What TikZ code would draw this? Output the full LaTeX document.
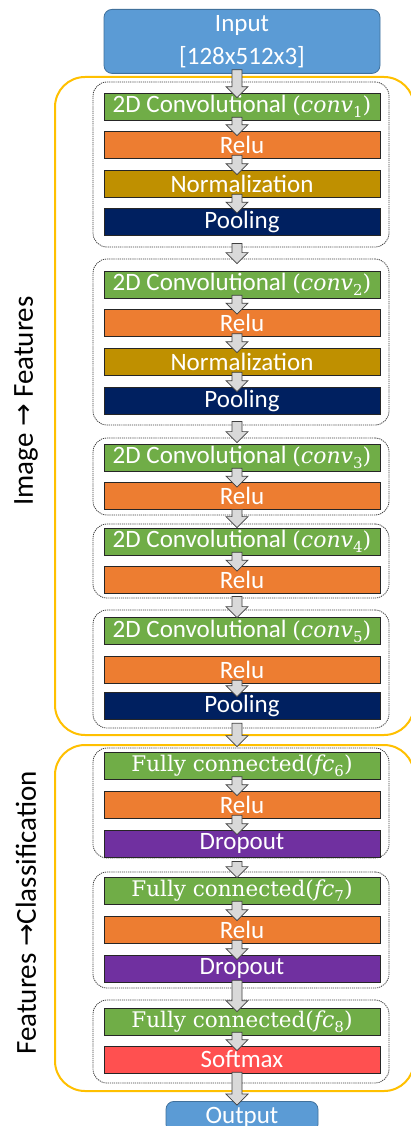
\documentclass[tikz,border=0pt]{standalone}
\usepackage{fontspec}
\setsansfont{Carlito}
\newfontfamily\cambriaish{DejaVu Serif}
\newfontfamily\arrowfont{DejaVu Sans}
\usetikzlibrary{calc}
\definecolor{inblue}{HTML}{5B9BD5}
\definecolor{inblueborder}{HTML}{41719C}
\definecolor{convgreen}{HTML}{70AD47}
\definecolor{reluorange}{HTML}{ED7D31}
\definecolor{normgold}{HTML}{BF9000}
\definecolor{poolnavy}{HTML}{002060}
\definecolor{droppurple}{HTML}{7030A0}
\definecolor{softred}{HTML}{FF5050}
\definecolor{stageorange}{HTML}{FFC000}
\definecolor{arrowgray}{HTML}{D9D9D9}
\newcommand\mvar[2]{{\cambriaish\fontsize{22}{26}\selectfont(\textit{#1}\raisebox{-0.22em}{\fontsize{15}{15}\selectfont #2})}}
\newcommand\fcname{{\cambriaish\fontsize{21.5}{26}\selectfont Fully connected}}
\newcommand\rarr{{\arrowfont\fontsize{27}{30}\selectfont →}}
\tikzset{
  lay/.style={draw=black!85, line width=0.6pt, minimum width=276pt, minimum height=27pt,
    inner sep=0pt, text=white, font=\sffamily\fontsize{25}{28}\selectfont},
  grp/.style={draw=black!75, dash pattern=on 1.2pt off 0.9pt, line width=0.8pt,
    rounded corners=14pt, minimum width=296pt, inner sep=0pt},
  stage/.style={draw=stageorange, line width=2pt, rounded corners=30pt},
  ioblock/.style={draw=inblueborder, fill=inblue, line width=0.8pt, rounded corners=8pt,
    text=white, inner sep=0pt, font=\sffamily\fontsize{25}{33}\selectfont, align=center},
  barrowstyle/.style={fill=arrowgray, draw=black!75, line width=0.7pt, line join=miter},
  sidelabel/.style={rotate=90, inner sep=0pt, font=\sffamily\fontsize{29}{32}\selectfont},
}
\newcommand\blockarrow[2]{%
  \path[barrowstyle] let \p1=#1, \p2=#2 in
    (\x1-5pt,\y1) -- (\x1-5pt,\y2+11pt) -- (\x1-11pt,\y2+11pt) -- (\x1,\y2)
    -- (\x1+11pt,\y2+11pt) -- (\x1+5pt,\y2+11pt) -- (\x1+5pt,\y1) -- cycle;}
\begin{document}
\begin{tikzpicture}[x=1pt,y=-1pt]
\useasboundingbox[fill=white] (0,0) rectangle (411,1126);
% stages
\draw[stage] (55,77) rectangle (414,735);
\draw[stage] (55,745) rectangle (414,1091);
\node[sidelabel] (lab1) at (26,401) {Image \rarr{} Features};
\node[sidelabel] (lab2) at (26,913) {Features \rarr{}Classification};
% groups
\node[grp, minimum height=165pt] (g1) at (241,164.5) {};
\node[grp, minimum height=166pt] (g2) at (241,342) {};
\node[grp, minimum height=77pt] (g3) at (241,476.5) {};
\node[grp, minimum height=74pt] (g4) at (241,561) {};
\node[grp, minimum height=118pt] (g5) at (241,669) {};
\node[grp, minimum height=110pt] (g6) at (241,803) {};
\node[grp, minimum height=116pt] (g7) at (241,930) {};
\node[grp, minimum height=83pt] (g8) at (241,1041.5) {};
% input / output
\node[ioblock, minimum width=276pt, minimum height=64pt, anchor=north] (in) at (242,9) {Input\\{[}128x512x3]};
\node[ioblock, minimum width=152pt, minimum height=31pt, anchor=north] (out) at (242,1101) {Output};
% layers
\node[lay, fill=convgreen] (c1) at (242,106.5) {2D Convolutional \mvar{conv}{1}};
\node[lay, fill=reluorange] (r1) at (242,144.5) {Relu};
\node[lay, fill=normgold] (n1) at (242,183.5) {Normalization};
\node[lay, fill=poolnavy] (p1) at (242,222) {Pooling};
\node[lay, fill=convgreen] (c2) at (242,284.5) {2D Convolutional \mvar{conv}{2}};
\node[lay, fill=reluorange] (r2) at (242,323) {Relu};
\node[lay, fill=normgold] (n2) at (242,361.5) {Normalization};
\node[lay, fill=poolnavy] (p2) at (242,400.5) {Pooling};
\node[lay, fill=convgreen] (c3) at (242,457.5) {2D Convolutional \mvar{conv}{3}};
\node[lay, fill=reluorange] (r3) at (242,496) {Relu};
\node[lay, fill=convgreen] (c4) at (242,541.5) {2D Convolutional \mvar{conv}{4}};
\node[lay, fill=reluorange] (r4) at (242,580) {Relu};
\node[lay, fill=convgreen] (c5) at (242,631) {2D Convolutional \mvar{conv}{5}};
\node[lay, fill=reluorange] (r5) at (242,669.5) {Relu};
\node[lay, fill=poolnavy] (p5) at (242,705.5) {Pooling};
\node[lay, fill=convgreen] (f6) at (242,766) {\fcname\mvar{fc}{6}};
\node[lay, fill=reluorange] (r6) at (242,804.5) {Relu};
\node[lay, fill=droppurple] (d6) at (242,843.5) {Dropout};
\node[lay, fill=convgreen] (f7) at (242,890.5) {\fcname\mvar{fc}{7}};
\node[lay, fill=reluorange] (r7) at (242,929.5) {Relu};
\node[lay, fill=droppurple] (d7) at (242,968.5) {Dropout};
\node[lay, fill=convgreen] (f8) at (242,1021.5) {\fcname\mvar{fc}{8}};
\node[lay, fill=softred] (sm) at (242,1059.5) {Softmax};
% arrows
\blockarrow{([xshift=-5pt,yshift=4pt]in.south)}{([xshift=-5pt,yshift=-5pt]c1.north)}
\blockarrow{([xshift=-5pt,yshift=3pt]c1.south)}{([xshift=-5pt,yshift=-5pt]r1.north)}
\blockarrow{([xshift=-5pt,yshift=3pt]r1.south)}{([xshift=-5pt,yshift=-5pt]n1.north)}
\blockarrow{([xshift=-5pt,yshift=3pt]n1.south)}{([xshift=-5pt,yshift=-5pt]p1.north)}
\blockarrow{([xshift=-4pt,yshift=4pt]g1.south)}{([xshift=-4pt,yshift=-5pt]g2.north)}
\blockarrow{([xshift=-5pt,yshift=3pt]c2.south)}{([xshift=-5pt,yshift=-5pt]r2.north)}
\blockarrow{([xshift=-5pt,yshift=3pt]r2.south)}{([xshift=-5pt,yshift=-5pt]n2.north)}
\blockarrow{([xshift=-5pt,yshift=3pt]n2.south)}{([xshift=-5pt,yshift=-5pt]p2.north)}
\blockarrow{([xshift=-4pt,yshift=4pt]g2.south)}{([xshift=-4pt,yshift=-5pt]g3.north)}
\blockarrow{([xshift=-5pt,yshift=3pt]c3.south)}{([xshift=-5pt,yshift=-5pt]r3.north)}
\blockarrow{([xshift=-4pt,yshift=6pt]g3.south)}{([xshift=-4pt,yshift=-4pt]g4.north)}
\blockarrow{([xshift=-5pt,yshift=3pt]c4.south)}{([xshift=-5pt,yshift=-5pt]r4.north)}
\blockarrow{([xshift=-4pt,yshift=2pt]g4.south)}{([xshift=-4pt,yshift=-8pt]g5.north)}
\blockarrow{([xshift=-5pt,yshift=3pt]r5.south)}{([xshift=-5pt,yshift=-5pt]p5.north)}
\blockarrow{([xshift=-5pt,yshift=-4pt]p5.south)}{([xshift=-4pt,yshift=1pt]g6.north)}
\blockarrow{([xshift=-5pt,yshift=3pt]f6.south)}{([xshift=-5pt,yshift=-5pt]r6.north)}
\blockarrow{([xshift=-5pt,yshift=3pt]r6.south)}{([xshift=-5pt,yshift=-5pt]d6.north)}
\blockarrow{([xshift=-4pt,yshift=-3pt]g6.south)}{([xshift=-4pt,yshift=-6pt]g7.north)}
\blockarrow{([xshift=-5pt,yshift=3pt]f7.south)}{([xshift=-5pt,yshift=-5pt]r7.north)}
\blockarrow{([xshift=-5pt,yshift=3pt]r7.south)}{([xshift=-5pt,yshift=-5pt]d7.north)}
\blockarrow{([xshift=-5pt,yshift=2pt]d7.south)}{([xshift=-5pt,yshift=-4pt]f8.north)}
\blockarrow{([xshift=-5pt,yshift=3pt]f8.south)}{([xshift=-5pt,yshift=-5pt]sm.north)}
\blockarrow{([xshift=-5pt,yshift=1pt]sm.south)}{([xshift=-5pt,yshift=-4pt]out.north)}
\end{tikzpicture}
\end{document}
